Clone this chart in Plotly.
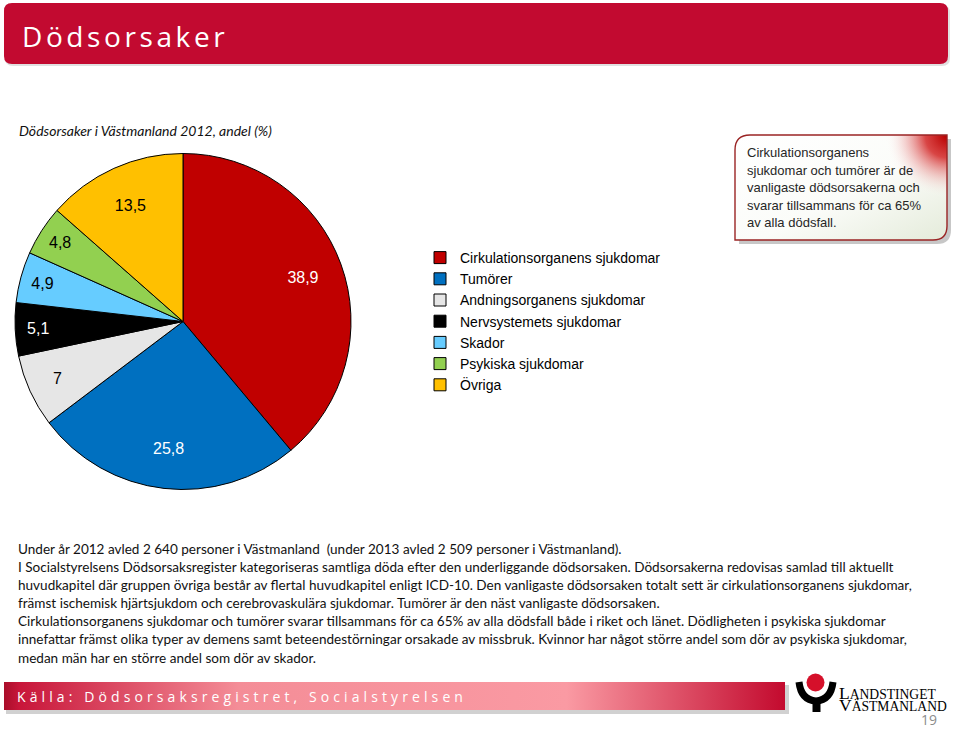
import base64
import plotly.graph_objects as go

W, H = 960, 731

# ---------------- data ----------------
categories = ["Cirkulationsorganens sjukdomar", "Tumörer", "Andningsorganens sjukdomar",
              "Nervsystemets sjukdomar", "Skador", "Psykiska sjukdomar", "Övriga"]
shares = [38.9, 25.8, 7.0, 5.1, 4.9, 4.8, 13.5]
slice_colors = ["#C00000", "#0070C0", "#E6E6E6", "#000000", "#66CCFF", "#92D050", "#FFC000"]
label_colors = ["white", "white", "black", "white", "black", "black", "black"]

title_text = "Dödsorsaker"
subtitle_text = "Dödsorsaker i Västmanland 2012, andel (%)"
callout_lines = ["Cirkulationsorganens", "sjukdomar och tumörer är de", "vanligaste dödsorsakerna och",
                 "svarar tillsammans för ca 65%", "av alla dödsfall."]
body_lines = [
    "Under år 2012 avled 2 640 personer i Västmanland\u00a0 (under 2013 avled 2 509 personer i Västmanland).",
    "I Socialstyrelsens Dödsorsaksregister kategoriseras samtliga döda efter den underliggande dödsorsaken. Dödsorsakerna redovisas samlad till aktuellt",
    "huvudkapitel där gruppen övriga består av flertal huvudkapitel enligt ICD-10. Den vanligaste dödsorsaken totalt sett är cirkulationsorganens sjukdomar,",
    "främst ischemisk hjärtsjukdom och cerebrovaskulära sjukdomar. Tumörer är den näst vanligaste dödsorsaken.",
    "Cirkulationsorganens sjukdomar och tumörer svarar tillsammans för ca 65% av alla dödsfall både i riket och länet. Dödligheten i psykiska sjukdomar",
    "innefattar främst olika typer av demens samt beteendestörningar orsakade av missbruk. Kvinnor har något större andel som dör av psykiska sjukdomar,",
    "medan män har en större andel som dör av skador.",
]
source_text = "Källa: Dödsorsaksregistret, Socialstyrelsen"
logo_lines = [("L", "ANDSTINGET"), ("V", "ÄSTMANLAND")]
page_number = "19"


def px(x):
    return x / W


def py(y):
    return 1 - y / H


def svg_uri(svg):
    return "data:image/svg+xml;base64," + base64.b64encode(svg.encode("utf-8")).decode("ascii")


pie_domain = dict(x=[px(15), px(351)], y=[py(490), py(153)])

fig = go.Figure()

# dummy trace so that a pixel-space cartesian frame exists for decorations
fig.add_trace(go.Scatter(x=[None], y=[None], showlegend=False, hoverinfo="skip"))

# the filled pie (with legend)
fig.add_trace(go.Pie(
    labels=categories,
    values=shares,
    sort=False,
    direction="clockwise",
    rotation=0,
    marker=dict(colors=slice_colors, line=dict(color="black", width=1)),
    textinfo="none",
    domain=pie_domain,
    hoverinfo="label+value",
))

# transparent ring carrying the value labels (places them further out, like the original)
fig.add_trace(go.Pie(
    labels=categories,
    values=shares,
    sort=False,
    direction="clockwise",
    rotation=0,
    hole=0.52,
    showlegend=False,
    marker=dict(colors=["rgba(0,0,0,0)"] * len(shares), line=dict(width=0)),
    textinfo="value",
    textposition="inside",
    insidetextorientation="horizontal",
    insidetextfont=dict(family="Liberation Sans, Arial", size=16, color=label_colors),
    domain=pie_domain,
    hoverinfo="skip",
))

# ---------------- decorations ----------------
shapes = []
# header shadow + header
shapes.append(dict(type="path", xref="x", yref="y", layer="below",
                   path="M 13 5 H 942 Q 950 5 950 13 V 58 Q 950 66 942 66 H 13 Q 5 66 5 58 V 13 Q 5 5 13 5 Z",
                   fillcolor="rgba(0,0,0,0.12)", line=dict(width=0)))
shapes.append(dict(type="path", xref="x", yref="y", layer="below",
                   path="M 12 3 H 940 Q 948 3 948 11 V 56 Q 948 64 940 64 H 12 Q 4 64 4 56 V 11 Q 4 3 12 3 Z",
                   fillcolor="#C20A30", line=dict(width=0)))
# logo
shapes.append(dict(type="path", xref="x", yref="y",
                   path="M 799 682 Q 801 700 816 701 Q 831 700 833 682",
                   line=dict(color="black", width=7)))
shapes.append(dict(type="path", xref="x", yref="y",
                   path="M 816.5 699 L 816.5 712", line=dict(color="black", width=8)))
shapes.append(dict(type="circle", xref="x", yref="y", x0=806.5, x1=824.5, y0=673.5, y1=691.5,
                   fillcolor="#D5102A", line=dict(width=0)))

images = []
footer_svg = (
    '<svg xmlns="http://www.w3.org/2000/svg" width="786" height="34" viewBox="0 0 786 34">'
    '<defs><linearGradient id="g" x1="0" y1="0" x2="1" y2="0">'
    '<stop offset="0" stop-color="#A90E2A"/><stop offset="0.02" stop-color="#C8163A"/>'
    '<stop offset="0.3" stop-color="#F48D97"/><stop offset="0.72" stop-color="#FA9AA3"/>'
    '<stop offset="1" stop-color="#C30A2E"/></linearGradient></defs>'
    '<rect x="2" y="3" width="783" height="29" fill="rgba(0,0,0,0.18)"/>'
    '<rect x="0" y="0" width="781" height="28" fill="url(#g)"/></svg>'
)
images.append(dict(source=svg_uri(footer_svg), xref="paper", yref="paper",
                   x=px(4), y=py(682), sizex=786 / W, sizey=34 / H,
                   xanchor="left", yanchor="top", sizing="stretch", layer="below"))

callout_svg = (
    '<svg xmlns="http://www.w3.org/2000/svg" width="222" height="114" viewBox="0 0 222 114">'
    '<defs><linearGradient id="f" x1="0" y1="0" x2="1" y2="1">'
    '<stop offset="0" stop-color="#FFFFFF"/><stop offset="0.55" stop-color="#FBFCF9"/>'
    '<stop offset="1" stop-color="#E4EBDA"/></linearGradient>'
    '<radialGradient id="r" cx="213" cy="2" r="62" gradientUnits="userSpaceOnUse">'
    '<stop offset="0" stop-color="#B80000" stop-opacity="1"/>'
    '<stop offset="0.35" stop-color="#D01818" stop-opacity="0.8"/>'
    '<stop offset="1" stop-color="#FFFFFF" stop-opacity="0"/></radialGradient>'
    '<clipPath id="c"><path d="M 16 1 H 213 V 92 Q 213 106 199 106 H 1 V 16 Q 1 1 16 1 Z"/></clipPath></defs>'
    '<path d="M 19 5 H 217 V 96 Q 217 110 203 110 H 5 V 20 Q 5 5 19 5 Z" fill="rgba(0,0,0,0.22)"/>'
    '<path d="M 16 1 H 213 V 92 Q 213 106 199 106 H 1 V 16 Q 1 1 16 1 Z" fill="url(#f)"/>'
    '<rect x="0" y="0" width="222" height="114" fill="url(#r)" clip-path="url(#c)"/>'
    '<path d="M 16 1 H 213 V 92 Q 213 106 199 106 H 1 V 16 Q 1 1 16 1 Z" fill="none" stroke="#9A2424" stroke-width="1.4"/>'
    '</svg>'
)
images.append(dict(source=svg_uri(callout_svg), xref="paper", yref="paper",
                   x=px(734), y=py(134), sizex=222 / W, sizey=114 / H,
                   xanchor="left", yanchor="top", sizing="stretch", layer="below"))

annotations = []
annotations.append(dict(
    xref="x", yref="y", x=20, y=36, xanchor="left", yanchor="middle", showarrow=False,
    text='<span style="letter-spacing:3.6px">' + title_text + '</span>',
    font=dict(family="Open Sans", size=28, color="white")))
annotations.append(dict(
    xref="x", yref="y", x=17, y=130, xanchor="left", yanchor="middle", showarrow=False,
    text="<i>" + subtitle_text + "</i>",
    font=dict(family="Lato", size=14, color="#111111")))
for i, line in enumerate(callout_lines):
    annotations.append(dict(
        xref="x", yref="y", x=745, y=152.5 + 17.5 * i, xanchor="left", yanchor="middle",
        showarrow=False, text=line,
        font=dict(family="Liberation Sans, Arial", size=13, color="#262626")))
for i, line in enumerate(body_lines):
    annotations.append(dict(
        xref="x", yref="y", x=16, y=548.5 + 18.17 * i, xanchor="left", yanchor="middle",
        showarrow=False, text=line,
        font=dict(family="Lato", size=13.55, color="#111111")))
annotations.append(dict(
    xref="x", yref="y", x=15, y=696, xanchor="left", yanchor="middle", showarrow=False,
    text='<span style="letter-spacing:4.1px">' + source_text + '</span>',
    font=dict(family="Open Sans", size=14, color="white")))
for i, (first, rest) in enumerate(logo_lines):
    annotations.append(dict(
        xref="x", yref="y", x=837, y=692.5 + 12.5 * i, xanchor="left", yanchor="middle",
        showarrow=False, text=first + '<span style="font-size:13.6px">' + rest + '</span>',
        font=dict(family="Liberation Serif", size=17.5, color="black")))
annotations.append(dict(
    xref="x", yref="y", x=929, y=731, xanchor="center", yanchor="bottom", showarrow=False,
    text=page_number, font=dict(family="Open Sans", size=14, color="#8C8C8C")))

fig.update_layout(
    width=W, height=H,
    margin=dict(l=0, r=0, t=0, b=0),
    paper_bgcolor="white", plot_bgcolor="rgba(0,0,0,0)",
    separators=", ",
    xaxis=dict(range=[0, W], visible=False, domain=[0, 1], fixedrange=True),
    yaxis=dict(range=[H, 0], visible=False, domain=[0, 1], fixedrange=True),
    showlegend=True,
    legend=dict(x=px(420), y=py(242), xanchor="left", yanchor="top",
                font=dict(family="Liberation Sans, Arial", size=14, color="black"),
                bgcolor="rgba(0,0,0,0)", traceorder="normal"),
    shapes=shapes, images=images, annotations=annotations,
)

fig.write_html("out.html")
